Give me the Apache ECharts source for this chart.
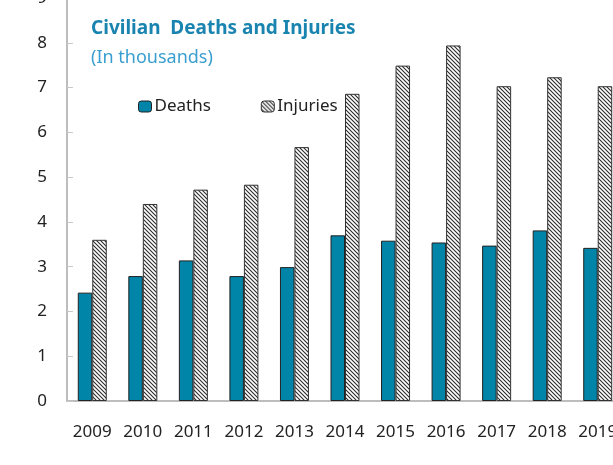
<!DOCTYPE html>
<html>
<head>
<meta charset="utf-8">
<script src="https://cdn.jsdelivr.net/npm/echarts@6/dist/echarts.min.js"></script>
<style>
html,body{margin:0;padding:0;background:#fff;}
#chart{width:613px;height:465px;}
</style>
</head>
<body>
<div id="chart"></div>
<script>
const years = ['2009','2010','2011','2012','2013','2014','2015','2016','2017','2018','2019'];
const deaths = [2.42, 2.79, 3.14, 2.79, 2.99, 3.7, 3.58, 3.54, 3.47, 3.81, 3.42];
const injuries = [3.6, 4.4, 4.72, 4.83, 5.67, 6.86, 7.49, 7.94, 7.03, 7.23, 7.03];
const yTicks = [0, 1, 2, 3, 4, 5, 6, 7, 8, 9];

function hatch() {
  const c = document.createElement('canvas');
  c.width = 4; c.height = 4;
  const ctx = c.getContext('2d');
  ctx.fillStyle = '#fff';
  ctx.fillRect(0, 0, 4, 4);
  ctx.strokeStyle = '#2a2a2a';
  ctx.lineWidth = 1.1;
  ctx.beginPath();
  ctx.moveTo(-1, -1); ctx.lineTo(5, 5);
  ctx.moveTo(-1, 3); ctx.lineTo(1, 5);
  ctx.moveTo(3, -1); ctx.lineTo(5, 1);
  ctx.stroke();
  return c;
}
const pat = { image: hatch(), repeat: 'repeat' };

const chart = echarts.init(document.getElementById('chart'), null, { renderer: 'canvas' });
const font = 'Noto Sans';
chart.setOption({
  animation: false,
  backgroundColor: '#fff',
  title: {
    text: 'Civilian  Deaths and Injuries',
    subtext: '(In thousands)',
    left: 86,
    top: 14,
    itemGap: 11,
    textStyle: { fontFamily: font, fontSize: 19, fontWeight: 'bold', color: '#1a84b0' },
    subtextStyle: { fontFamily: font, fontSize: 18, color: '#3a9fd0' }
  },
  legend: {
    left: 133,
    top: 93,
    itemWidth: 13,
    itemHeight: 11,
    itemGap: 50,
    textStyle: { fontFamily: font, fontSize: 17, color: '#222', padding: [0, 0, 0, -2] },
    data: [
      { name: 'Deaths', itemStyle: { color: '#0084a8', borderColor: '#222', borderWidth: 1 } },
      { name: 'Injuries', itemStyle: { color: pat, borderColor: '#333', borderWidth: 1 } }
    ]
  },
  grid: { left: 67, top: -2, width: 556, height: 403, containLabel: false, outerBoundsMode: 'none' },
  xAxis: {
    type: 'category',
    data: years,
    axisLine: { lineStyle: { color: '#bdbdbd', width: 2 } },
    axisTick: { inside: true, length: 6, lineStyle: { color: '#c8c8c8', width: 1 } },
    axisLabel: { fontFamily: font, fontSize: 17, color: '#222', margin: 23, interval: 0 }
  },
  yAxis: {
    type: 'value',
    min: yTicks[0],
    max: yTicks[yTicks.length - 1],
    interval: 1,
    splitLine: { show: false },
    axisLine: { show: true, lineStyle: { color: '#bdbdbd', width: 2 } },
    axisTick: { show: true, inside: true, length: 6, lineStyle: { color: '#c8c8c8' } },
    axisLabel: { fontFamily: font, fontSize: 17, color: '#222', margin: 20 }
  },
  series: [
    {
      name: 'Deaths', type: 'bar', data: deaths,
      barWidth: 14.5, barGap: '0%',
      itemStyle: { color: '#0084a8', borderColor: '#222', borderWidth: 1 }
    },
    {
      name: 'Injuries', type: 'bar', data: injuries,
      barWidth: 14.5, barGap: '0%',
      itemStyle: { color: pat, borderColor: '#333', borderWidth: 1 }
    }
  ]
});
</script>
</body>
</html>
